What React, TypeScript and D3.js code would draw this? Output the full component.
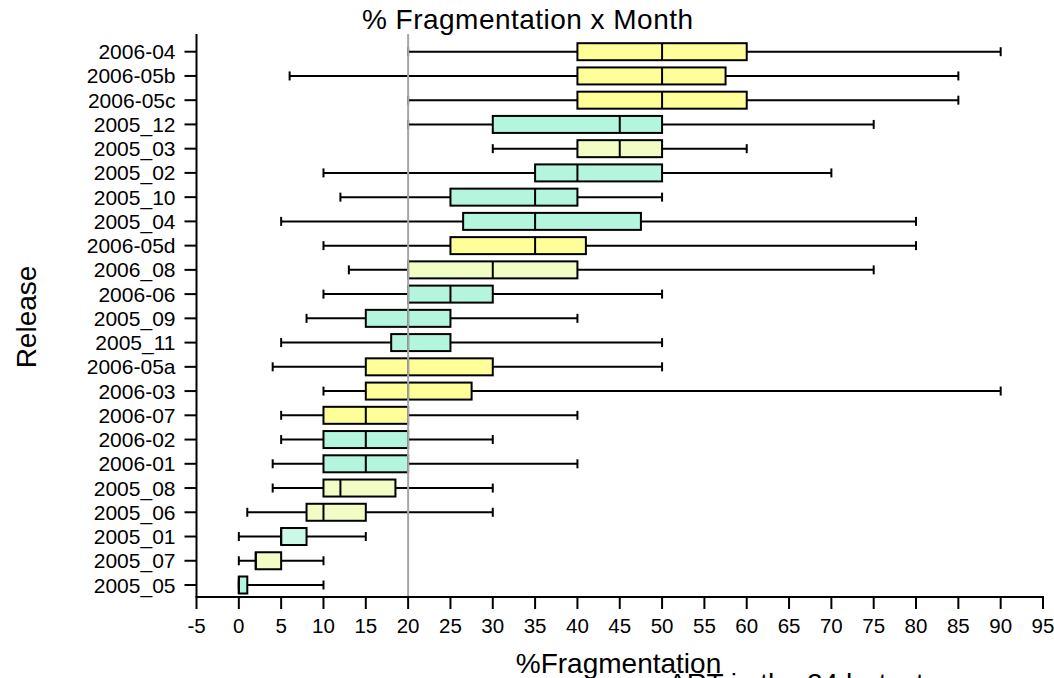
import * as d3 from 'd3';

const releases = [
  '2006-04', '2006-05b', '2006-05c', '2005_12', '2005_03', '2005_02', '2005_10', '2005_04',
  '2006-05d', '2006_08', '2006-06', '2005_09', '2005_11', '2006-05a', '2006-03', '2006-07',
  '2006-02', '2006-01', '2005_08', '2005_06', '2005_01', '2005_07', '2005_05',
];
const whiskerLow = [20, 6, 20, 20, 30, 10, 12, 5, 10, 13, 10, 8, 5, 4, 10, 5, 5, 4, 4, 1, 0, 0, 0];
const q1 = [40, 40, 40, 30, 40, 35, 25, 26.5, 25, 20, 20, 15, 18, 15, 15, 10, 10, 10, 10, 8, 5, 2, 0];
const median = [50, 50, 50, 45, 45, 40, 35, 35, 35, 30, 25, 20, 20, 20, 20, 15, 15, 15, 12, 10, 5, 2, 0];
const q3 = [60, 57.5, 60, 50, 50, 50, 40, 47.5, 41, 40, 30, 25, 25, 30, 27.5, 20, 20, 20, 18.5, 15, 8, 5, 1];
const whiskerHigh = [90, 85, 85, 75, 60, 70, 50, 80, 80, 75, 50, 40, 50, 50, 90, 40, 30, 40, 30, 30, 15, 10, 10];
// colour group per release: y = yellow, m = mint, g = pale green, l = light mint
const group = ['y', 'y', 'y', 'm', 'g', 'm', 'm', 'm', 'y', 'g', 'm', 'm', 'm', 'y', 'y', 'y', 'm', 'm', 'g', 'g', 'l', 'g', 'm'];
const xTicks = d3.range(-5, 100, 5);
const refValue = 20;

const FILL: Record<string, string> = { y: '#ffff99', m: '#b3f6dd', g: '#f2fdc6', l: '#cbf8e7' };
const FONT = '"Liberation Sans", Arial, sans-serif';

export default function App() {
  const width = 1054;
  const height = 678;
  const plotTop = 34;
  const plotBottom = 597;

  const x = d3.scaleLinear().domain([-5, 95]).range([196.5, 1043]);
  const y = d3.scalePoint<string>().domain(releases).range([51.7, 585]);
  const boxH = 17;
  const capH = 9;

  return (
    <svg width={width} height={height} style={{ position: 'absolute', left: 0, top: 0, fontFamily: FONT }}>
      <rect width={width} height={height} fill="#fff" />
      <text x={527.5} y={29} fontSize={28} textAnchor="middle" textLength={331} lengthAdjust="spacing">
        % Fragmentation x Month
      </text>

      {releases.map((r, i) => {
        const cy = y(r)!;
        return (
          <g key={r}>
            <line x1={x(whiskerLow[i])} x2={x(q1[i])} y1={cy} y2={cy} stroke="#000" strokeWidth={2} />
            <line x1={x(q3[i])} x2={x(whiskerHigh[i])} y1={cy} y2={cy} stroke="#000" strokeWidth={2} />
            <line x1={x(whiskerLow[i])} x2={x(whiskerLow[i])} y1={cy - capH / 2} y2={cy + capH / 2} stroke="#000" strokeWidth={2} />
            <line x1={x(whiskerHigh[i])} x2={x(whiskerHigh[i])} y1={cy - capH / 2} y2={cy + capH / 2} stroke="#000" strokeWidth={2} />
            <rect
              x={x(q1[i])}
              y={cy - boxH / 2}
              width={x(q3[i]) - x(q1[i])}
              height={boxH}
              fill={FILL[group[i]]}
              stroke="#000"
              strokeWidth={2}
            />
            <line x1={x(median[i])} x2={x(median[i])} y1={cy - boxH / 2} y2={cy + boxH / 2} stroke="#000" strokeWidth={2} />
          </g>
        );
      })}

      {/* reference line */}
      <line x1={x(refValue)} x2={x(refValue)} y1={plotTop} y2={plotBottom} stroke="#a6a6a6" strokeWidth={2} />

      {/* y axis */}
      <line x1={x(-5)} x2={x(-5)} y1={plotTop} y2={plotBottom} stroke="#000" strokeWidth={2} />
      {releases.map((r) => (
        <g key={'yt' + r}>
          <line x1={x(-5) - 12} x2={x(-5)} y1={y(r)!} y2={y(r)!} stroke="#000" strokeWidth={2} />
          <text x={x(-5) - 21} y={y(r)! + 7.5} fontSize={21} textAnchor="end">{r}</text>
        </g>
      ))}

      {/* x axis */}
      <line x1={x(-5) - 1} x2={x(95) + 1} y1={plotBottom} y2={plotBottom} stroke="#000" strokeWidth={2} />
      {xTicks.map((t) => (
        <g key={'xt' + t}>
          <line x1={x(t)} x2={x(t)} y1={plotBottom} y2={plotBottom + 12} stroke="#000" strokeWidth={2} />
          <text x={x(t)} y={633} fontSize={20.5} textAnchor="middle">{t}</text>
        </g>
      ))}

      <text x={618.5} y={673} fontSize={28} textAnchor="middle">%Fragmentation</text>
      <text transform="translate(36,317) rotate(-90)" fontSize={28} textAnchor="middle">Release</text>
      <text x={668} y={693} fontSize={28}>ART in the 24 hr test</text>
    </svg>
  );
}
